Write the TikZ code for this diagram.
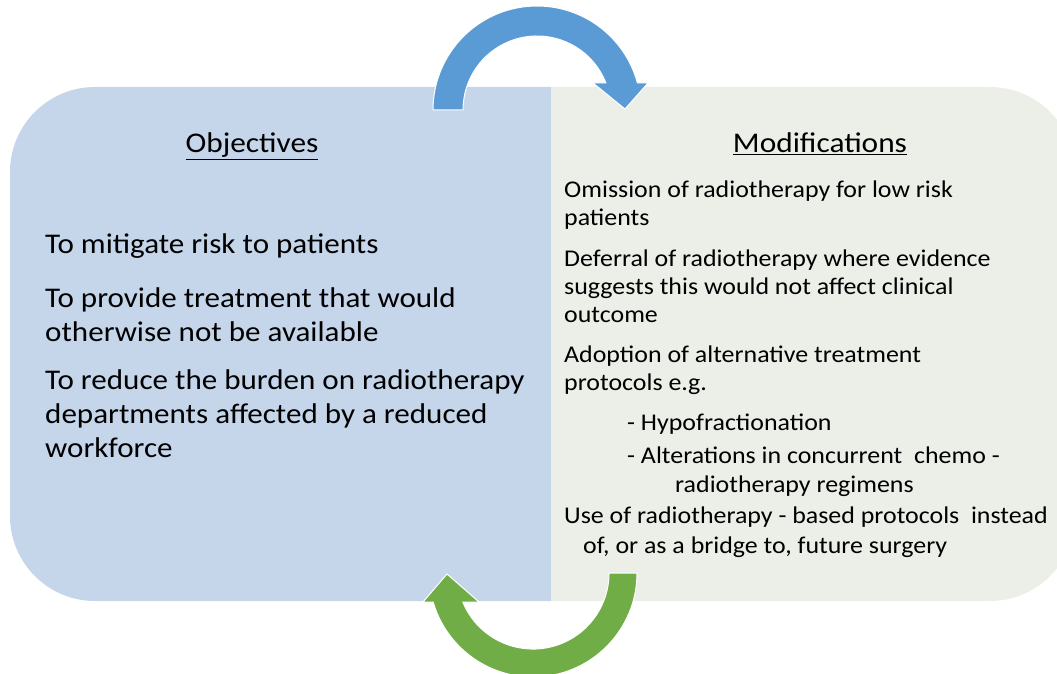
\documentclass[tikz,border=0pt]{standalone}
\usepackage{fontspec}
\setmainfont{Carlito}
\newfontfamily\bigfont[FakeStretch=1.09]{Carlito}
\newfontfamily\smallfont[FakeStretch=1.08]{Carlito}
\newfontfamily\headfont[FakeStretch=1.10]{Carlito}
\definecolor{leftfill}{HTML}{C5D5EA}
\definecolor{rightfill}{HTML}{EBEFE8}
\definecolor{bluearrow}{HTML}{5B9BD5}
\definecolor{greenarrow}{HTML}{70AD47}
\tikzset{
  bigtxt/.style={anchor=base west, inner sep=0pt, font=\bigfont\fontsize{28.5}{34}\selectfont},
  smalltxt/.style={anchor=base west, inner sep=0pt, font=\smallfont\fontsize{24}{28}\selectfont},
  heading/.style={anchor=base, inner sep=0pt, font=\headfont\fontsize{28.5}{34}\selectfont},
  arrowshape/.style={draw=white, line width=1pt},
}
\begin{document}
\begin{tikzpicture}[x=1pt,y=-1pt]
\useasboundingbox (0,0) rectangle (1057,674);
\clip (0,0) rectangle (1057,674);
% left box
\fill[leftfill] (551,87) -- (95,87) arc[start angle=270, end angle=180, radius=85]
  -- (10,516) arc[start angle=180, end angle=90, radius=85] -- (551,601) -- cycle;
% right box
\fill[rightfill] (551,87) -- (990,87) arc[start angle=270, end angle=360, radius=85]
  -- (1075,516) arc[start angle=0, end angle=90, radius=85] -- (551,601) -- cycle;
% top arrow
\path[arrowshape, fill=bluearrow] (433,110) arc[start angle=180, end angle=344.95, radius=104]
  -- (648,83) -- (625,109) -- (593,83) -- (605.9,83)
  arc[start angle=338.6, end angle=180, radius=74] -- cycle;
% bottom arrow
\path[arrowshape, fill=greenarrow] (637,573) arc[start angle=0, end angle=163.8, radius=104]
  -- (423,602) -- (447,574) -- (479,602) -- (462.8,602)
  arc[start angle=157.6, end angle=0, radius=76] -- cycle;
% left text
\node[heading] (objh) at (252,153) {\underline{Objectives}};
\node[bigtxt] (o1) at (45,253) {To mitigate risk to patients};
\node[bigtxt] (o2a) at (45,307) {To provide treatment that would};
\node[bigtxt] (o2b) at (45,341) {otherwise not be available};
\node[bigtxt] (o3a) at (45,389) {To reduce the burden on radiotherapy};
\node[bigtxt] (o3b) at (45,423) {departments affected by a reduced};
\node[bigtxt] (o3c) at (45,457) {workforce};
% right text
\node[heading] (modh) at (820,153) {\underline{Modifications}};
\node[smalltxt] (m1a) at (564,197) {Omission of radiotherapy for low risk};
\node[smalltxt] (m1b) at (564,225) {patients};
\node[smalltxt] (m2a) at (564,266) {Deferral of radiotherapy where evidence};
\node[smalltxt] (m2b) at (564,294) {suggests this would not affect clinical};
\node[smalltxt] (m2c) at (564,322) {outcome};
\node[smalltxt] (m3a) at (564,362) {Adoption of alternative treatment};
\node[smalltxt] (m3b) at (564,390) {protocols e.g.};
\node[smalltxt] (m3c) at (627,430) {- Hypofractionation};
\node[smalltxt] (m3d) at (627,463) {- Alterations in concurrent\ \ chemo -};
\node[smalltxt] (m3e) at (675,492) {radiotherapy regimens};
\node[smalltxt] (m4a) at (564,523) {Use of radiotherapy - based protocols\ \ instead};
\node[smalltxt] (m4b) at (583,553) {of, or as a bridge to, future surgery};
\end{tikzpicture}
\end{document}
